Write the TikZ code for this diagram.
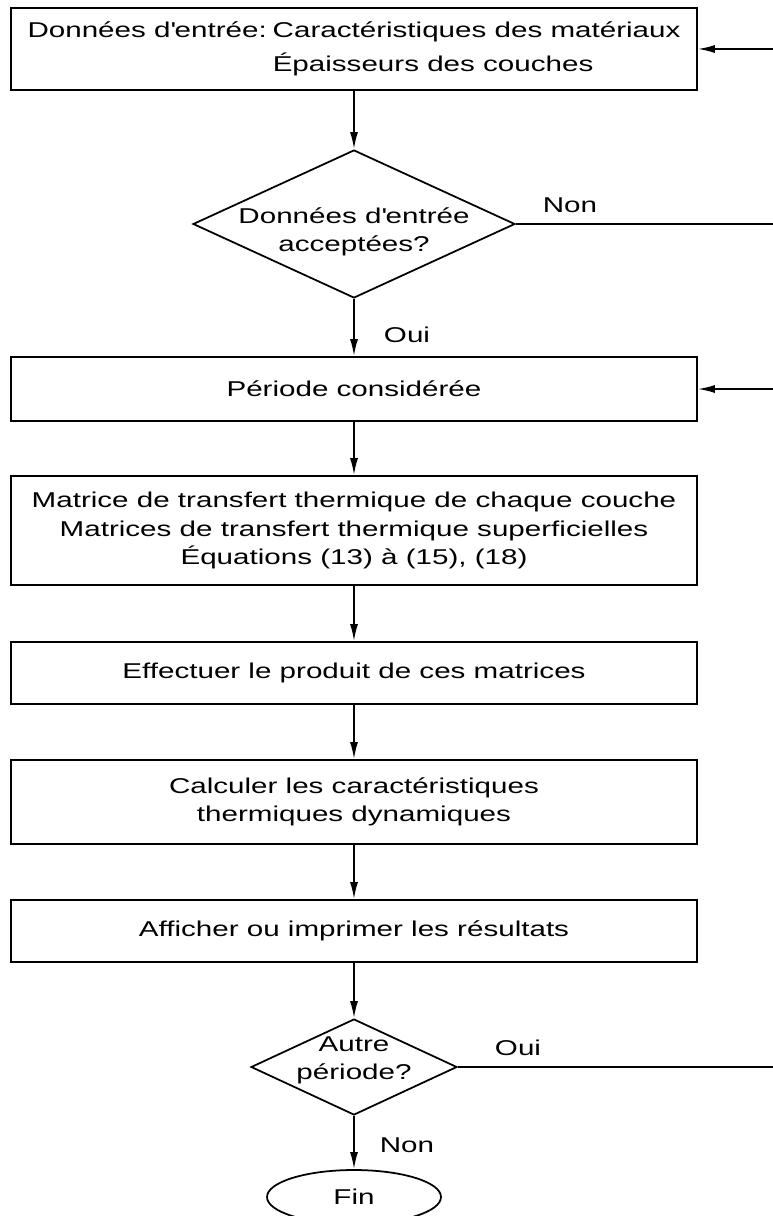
\documentclass[tikz,border=0pt]{standalone}
\usepackage{fontspec}
\setmainfont{Liberation Sans}[FakeStretch=1.38]
\usepackage{tikz}
\usetikzlibrary{shapes.geometric,arrows.meta}

\newcommand{\inset}[2]{\makebox[0pt]{\smash{\raisebox{#1}{\begin{tabular}{@{}c@{}}#2\end{tabular}}}}}
\newcommand{\apos}{\textquotesingle}

\begin{document}
\begin{tikzpicture}[x=0.02cm, y=-0.02cm, line width=1pt,
  >={Latex[length=0.34cm,width=0.16cm]},
  every node/.style={font=\fontsize{12.2}{16}\selectfont},
  stepbox/.style={draw, rectangle, minimum width=13.72cm, inner sep=0pt, align=center},
  testbox/.style={draw, diamond, inner sep=0pt},
  endbox/.style={draw, ellipse, inner sep=0pt, minimum width=3.48cm, minimum height=1.08cm}]
\useasboundingbox (0,0) rectangle (773,1216);

\node[stepbox, minimum height=1.64cm] (input) at (354,49)
  {\begin{tabular}{@{}l@{\hspace{0.28em}}l@{}}Données d\apos entrée: & Caractéristiques des matériaux\\[3.5pt]
   & Épaisseurs des couches\end{tabular}};
\node[testbox, minimum width=6.44cm, minimum height=2.96cm] (accept) at (354,224)
  {\inset{-7.7pt}{Données d\apos entrée\\acceptées?}};
\node[stepbox, minimum height=1.28cm] (period) at (354,389) {Période considérée};
\node[stepbox, minimum height=2.18cm] (matrix) at (354,530.5)
  {Matrice de transfert thermique de chaque couche\\
   Matrices de transfert thermique superficielles\\
   Équations (13) à (15), (18)};
\node[stepbox, minimum height=1.24cm] (product) at (354,673) {Effectuer le produit de ces matrices};
\node[stepbox, minimum height=1.68cm] (compute) at (354,802)
  {Calculer les caractéristiques\\thermiques dynamiques};
\node[stepbox, minimum height=1.24cm] (output) at (354,931) {Afficher ou imprimer les résultats};
\node[testbox, minimum width=4.12cm, minimum height=1.92cm] (other) at (354,1067)
  {\inset{1pt}{Autre\\période?}};
\node[endbox] (stop) at (354,1197) {Fin};

% retours vers la droite
\coordinate (inputR) at (773,49);
\coordinate (acceptR) at (773,224);
\coordinate (periodR) at (773,389);
\coordinate (otherR) at (773,1067);

\draw[->] (input) -- (accept);
\draw[->] (accept) -- (period);
\draw[->] (period) -- (matrix);
\draw[->] (matrix) -- (product);
\draw[->] (product) -- (compute);
\draw[->] (compute) -- (output);
\draw[->] (output) -- (other);
\draw[->] (other) -- (stop);

\draw (accept.east) -- (acceptR);
\draw (other.east) -- (otherR);
\draw[->] (inputR) -- (input.east);
\draw[->] (periodR) -- (period.east);

\node (nonA) at (570,205) {Non};
\node (ouiA) at (407,335) {Oui};
\node (ouiB) at (518,1048) {Oui};
\node (nonB) at (407,1145) {Non};
\end{tikzpicture}
\end{document}
